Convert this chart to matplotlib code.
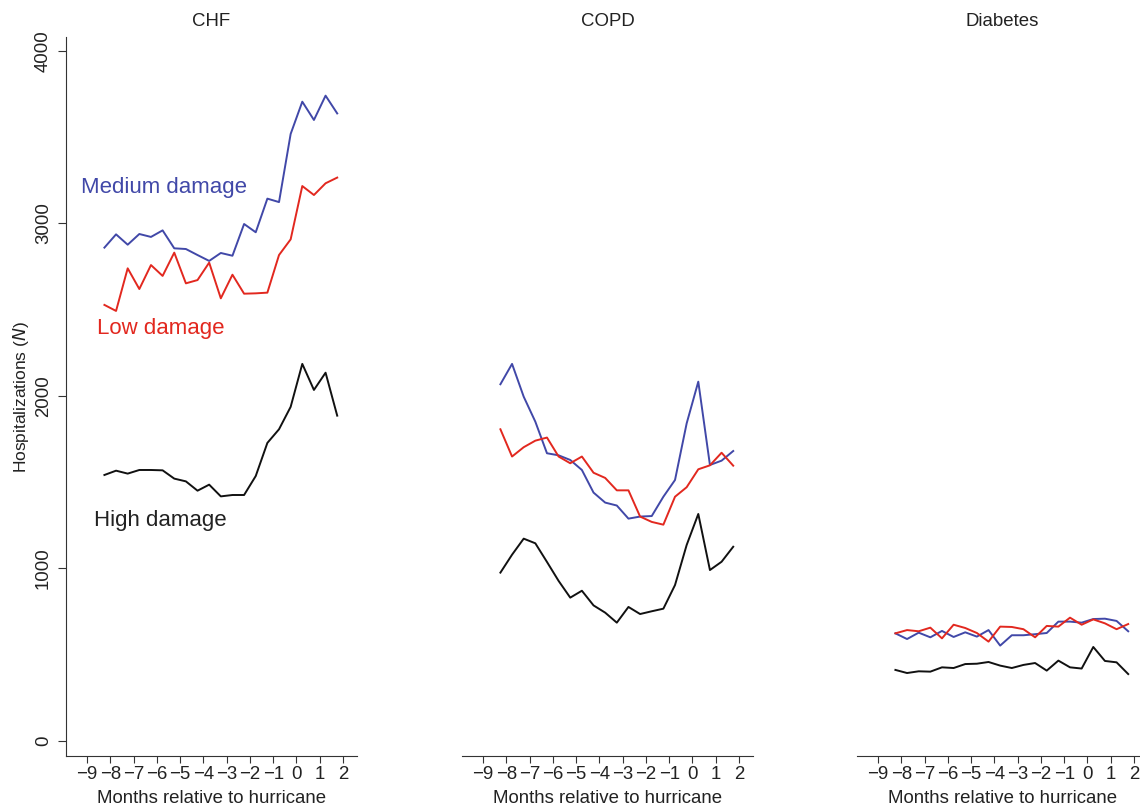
"""Monthly hospitalizations by hurricane damage level for CHF, COPD and diabetes."""

import matplotlib
matplotlib.use("Agg")
import matplotlib.pyplot as plt
import numpy as np

plt.rcParams["font.family"] = ["Liberation Sans", "DejaVu Sans"]

# Half-month steps, relative to hurricane landfall
months = np.arange(-8.25, 2.0, 0.5)

conditions = ["CHF", "COPD", "Diabetes"]

chf_medium = [2860, 2937, 2877, 2939, 2922, 2960, 2856, 2852, 2817, 2783, 2829,
              2813, 2997, 2949, 3144, 3124, 3519, 3706, 3600, 3741, 3638]
chf_low = [2528, 2493, 2740, 2620, 2759, 2696, 2831, 2653, 2672, 2773, 2566,
           2703, 2593, 2595, 2599, 2817, 2908, 3217, 3165, 3233, 3266]
chf_high = [1542, 1567, 1550, 1571, 1571, 1569, 1521, 1505, 1451, 1486, 1418,
            1426, 1426, 1536, 1728, 1807, 1937, 2186, 2035, 2135, 1886]

copd_medium = [2068, 2186, 1996, 1851, 1668, 1656, 1629, 1571, 1440, 1382, 1365,
               1289, 1301, 1304, 1416, 1513, 1841, 2083, 1600, 1625, 1681]
copd_low = [1807, 1649, 1703, 1741, 1759, 1649, 1610, 1649, 1555, 1525, 1453,
            1453, 1301, 1270, 1254, 1416, 1471, 1575, 1598, 1671, 1596]
copd_high = [976, 1080, 1173, 1146, 1038, 928, 831, 871, 786, 744, 686,
             777, 736, 752, 767, 904, 1136, 1316, 991, 1039, 1126]

diab_medium = [624, 591, 628, 601, 638, 603, 630, 605, 643, 553, 613,
               613, 619, 626, 692, 692, 686, 707, 709, 696, 636]
diab_low = [624, 643, 636, 657, 595, 674, 655, 626, 576, 663, 661,
            648, 601, 667, 663, 715, 674, 705, 682, 648, 678]
diab_high = [412, 394, 404, 402, 427, 423, 446, 448, 458, 437, 423,
             441, 452, 408, 466, 427, 420, 545, 464, 456, 388]

series = {
    "CHF": (chf_medium, chf_low, chf_high),
    "COPD": (copd_medium, copd_low, copd_high),
    "Diabetes": (diab_medium, diab_low, diab_high),
}

x_ticks = list(range(-9, 3))
y_ticks = [0, 1000, 2000, 3000, 4000]

BLUE = "#4148a8"
RED = "#e2281f"
BLACK = "#111111"
TEXT = "#222222"
FS = 13.4

fig = plt.figure(figsize=(11.4, 8.09), dpi=100)

# Panel geometry in figure pixels (left edges), shared width/height
W, H = 1140, 809
panel_left = [66, 462, 857]
panel_w, bottom_px, top_px = 291, 756, 37

for i, name in enumerate(conditions):
    ax = fig.add_axes([panel_left[i] / W, 1 - bottom_px / H,
                       panel_w / W, (bottom_px - top_px) / H])
    medium, low, high = series[name]
    ax.plot(months, medium, color=BLUE, lw=1.4)
    ax.plot(months, low, color=RED, lw=1.4)
    ax.plot(months, high, color=BLACK, lw=1.4)

    ax.set_xlim(-9.9, 2.6)
    ax.set_ylim(-87, 4081)
    ax.set_xticks(x_ticks)
    ax.set_xticklabels([f"{t}".replace("-", "\u2212") for t in x_ticks])
    ax.tick_params(axis="x", length=5, width=0.8, pad=2, labelsize=FS,
                   color="#333333", labelcolor=TEXT)
    ax.set_xlabel("Months relative to hurricane", fontsize=FS,
                  color=TEXT, labelpad=5)
    ax.set_title(name, fontsize=FS, color=TEXT, pad=8)

    for side in ("top", "right"):
        ax.spines[side].set_visible(False)
    ax.spines["bottom"].set_color("#333333")
    ax.spines["bottom"].set_linewidth(0.8)

    if i == 0:
        ax.set_yticks(y_ticks)
        ax.tick_params(axis="y", length=6, width=0.8, pad=4, labelsize=FS,
                       labelrotation=90, color="#333333", labelcolor=TEXT)
        for lab in ax.get_yticklabels():
            lab.set_va("center")
        ax.spines["left"].set_color("#333333")
        ax.spines["left"].set_linewidth(0.8)
        ax.set_ylabel("Hospitalizations ($\\it{N}$)", fontsize=12.5,
                      color=TEXT, labelpad=3)

        ax.text(-9.24, 3206, "Medium damage", color=BLUE, fontsize=16,
                ha="left", va="center")
        ax.text(-8.56, 2394, "Low damage", color=RED, fontsize=16,
                ha="left", va="center")
        ax.text(-8.69, 1281, "High damage", color=TEXT, fontsize=16,
                ha="left", va="center")
    else:
        ax.spines["left"].set_visible(False)
        ax.set_yticks([])

fig.savefig("out.png", dpi=100)
